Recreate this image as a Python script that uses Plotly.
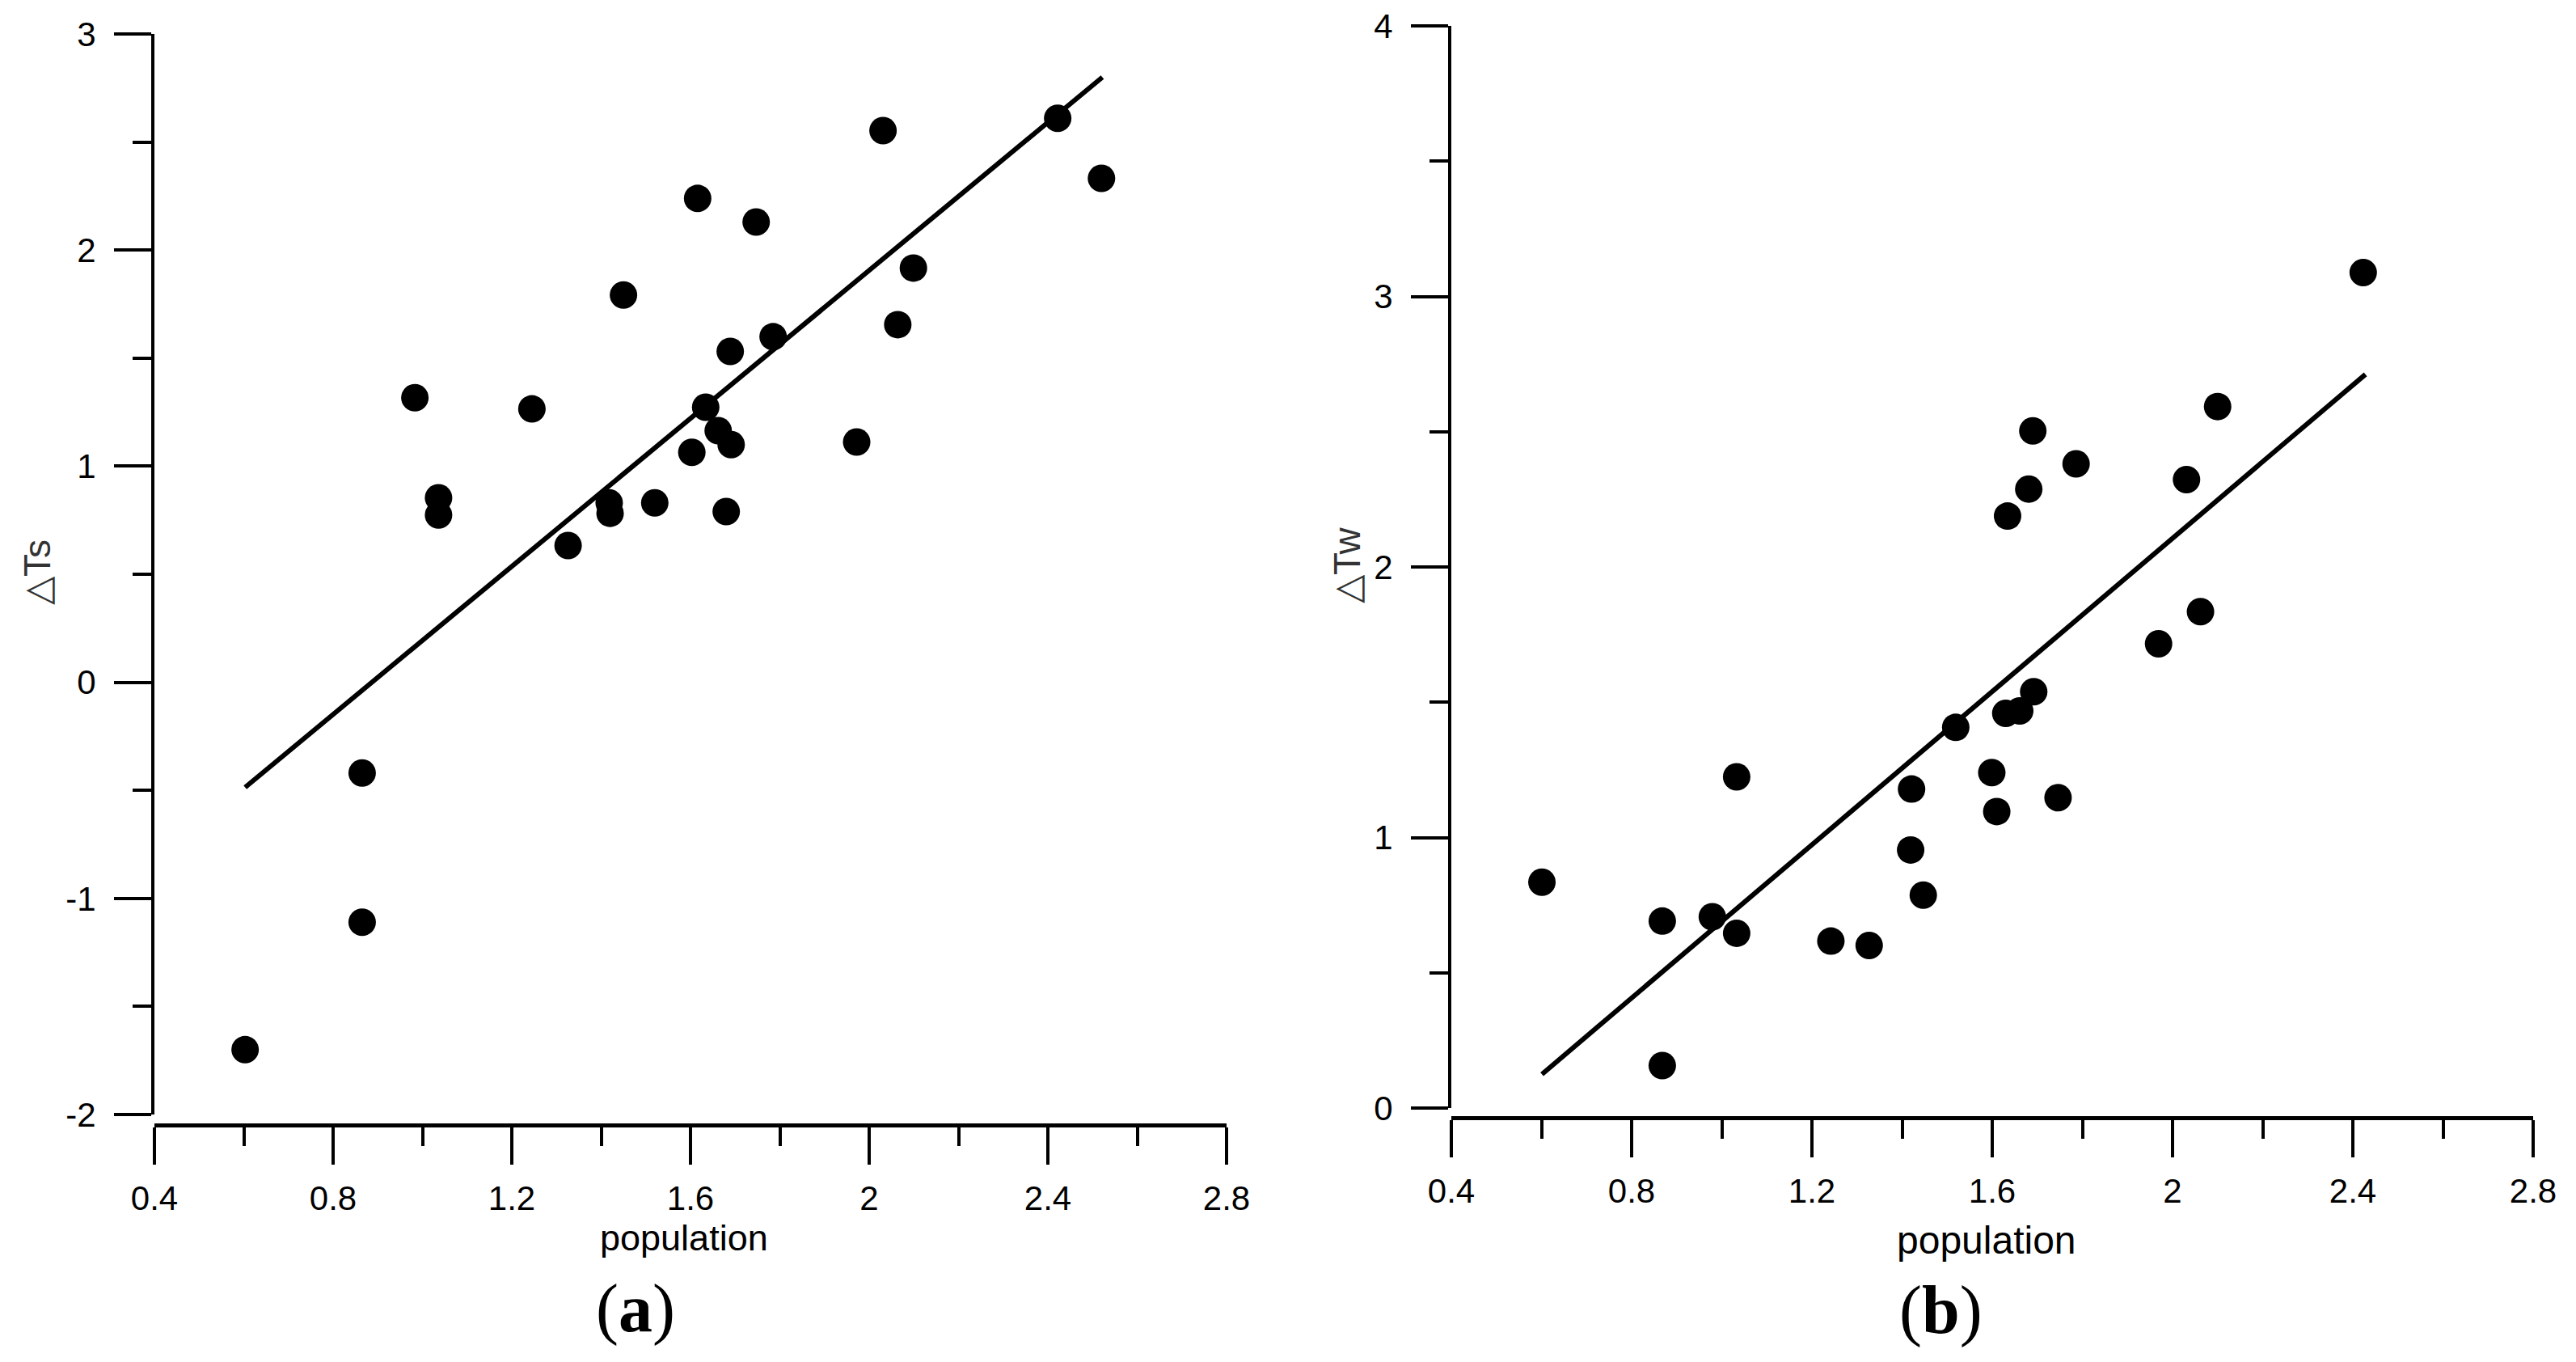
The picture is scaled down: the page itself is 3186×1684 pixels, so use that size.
import plotly.graph_objects as go

# panel (a): summer warming vs population
pop_a = [0.603, 0.865, 0.865, 0.983, 1.036, 1.036, 1.245, 1.326, 1.418, 1.420,
         1.450, 1.520, 1.603, 1.616, 1.634, 1.662, 1.680, 1.689, 1.691, 1.747,
         1.785, 1.972, 2.031, 2.064, 2.099, 2.422, 2.520]
dts = [-1.70, -0.42, -1.11, 1.317, 0.854, 0.774, 1.265, 0.633, 0.830, 0.782,
       1.792, 0.830, 1.064, 2.239, 1.273, 1.164, 0.790, 1.531, 1.100, 2.130,
       1.599, 1.112, 2.553, 1.655, 1.917, 2.610, 2.332]
fit_a_x = [0.603, 2.522]
fit_a_y = [-0.486, 2.800]

# panel (b): winter warming vs population
pop_b = [0.601, 0.868, 0.868, 0.979, 1.033, 1.033, 1.242, 1.327, 1.421, 1.419,
         1.447, 1.519, 1.599, 1.610, 1.634, 1.630, 1.661, 1.681, 1.690, 1.692,
         1.746, 1.786, 1.969, 2.031, 2.062, 2.100, 2.423]
dtw = [0.835, 0.691, 0.157, 0.707, 1.224, 0.646, 0.617, 0.601, 1.179, 0.954,
       0.787, 1.407, 1.240, 1.096, 2.188, 1.459, 1.468, 2.288, 2.503, 1.539,
       1.147, 2.381, 1.716, 2.323, 1.835, 2.593, 3.088]
fit_b_x = [0.601, 2.428]
fit_b_y = [0.125, 2.712]

x_ticks = [0.4, 0.8, 1.2, 1.6, 2.0, 2.4, 2.8]
x_labels = ["0.4", "0.8", "1.2", "1.6", "2", "2.4", "2.8"]
ya_ticks = [-2, -1, 0, 1, 2, 3]
ya_labels = ["-2", "-1", "0", "1", "2", "3"]
yb_ticks = [0, 1, 2, 3, 4]

W, H = 3186, 1684
OFF = 8  # page body margin in the browser
tickfont = dict(family="Liberation Sans, Arial", size=42, color="black")


def px_x(p):
    return (p - OFF) / W


def px_y(p):
    return 1 - (p - OFF) / H


fig = go.Figure()

fig.add_trace(go.Scatter(x=pop_a, y=dts, mode="markers", xaxis="x", yaxis="y",
                         marker=dict(size=34, color="black"), showlegend=False))
fig.add_trace(go.Scatter(x=fit_a_x, y=fit_a_y, mode="lines", xaxis="x", yaxis="y",
                         line=dict(color="black", width=6), showlegend=False))
fig.add_trace(go.Scatter(x=pop_b, y=dtw, mode="markers", xaxis="x2", yaxis="y2",
                         marker=dict(size=34, color="black"), showlegend=False))
fig.add_trace(go.Scatter(x=fit_b_x, y=fit_b_y, mode="lines", xaxis="x2", yaxis="y2",
                         line=dict(color="black", width=6), showlegend=False))

common_x = dict(range=[0.4, 2.8], tickmode="array", tickvals=x_ticks, ticktext=x_labels,
                showgrid=False, zeroline=False, showline=True, linewidth=5, linecolor="black",
                ticks="outside", ticklen=46, tickwidth=4, tickcolor="black",
                tickfont=tickfont, ticklabelstandoff=6, automargin=False,
                minor=dict(dtick=0.2, tick0=0.4, ticks="outside", ticklen=23,
                           tickwidth=4, tickcolor="black"))
common_y = dict(tickmode="array", showgrid=False, zeroline=False, showline=True,
                linewidth=4, linecolor="black", ticks="outside", ticklen=46,
                tickwidth=4, tickcolor="black", tickfont=tickfont, ticklabelstandoff=14,
                automargin=False,
                minor=dict(dtick=0.5, ticks="outside", ticklen=23, tickwidth=4,
                           tickcolor="black"))

fig.update_layout(
    width=W, height=H,
    margin=dict(l=0, r=0, t=0, b=0, autoexpand=False),
    paper_bgcolor="white", plot_bgcolor="white",
    xaxis=dict(common_x, domain=[px_x(191), px_x(1517)], anchor="free",
               position=px_y(1391)),
    yaxis=dict(common_y, range=[-2, 3], tickvals=ya_ticks, ticktext=ya_labels,
               domain=[px_y(1378), px_y(42)], anchor="x"),
    xaxis2=dict(common_x, domain=[px_x(1795), px_x(3133)], anchor="free",
                position=px_y(1382)),
    yaxis2=dict(common_y, range=[0, 4], tickvals=yb_ticks,
                domain=[px_y(1370), px_y(32)], anchor="x2"),
)


def label(xp, yp, text, size, angle=0, color="black", family="Liberation Sans, Arial"):
    fig.add_annotation(x=px_x(xp), y=px_y(yp), xref="paper", yref="paper",
                       xanchor="center", yanchor="middle", text=text, textangle=angle,
                       showarrow=False, font=dict(family=family, size=size, color=color))


label(846, 1530, "population", 45)
label(2457, 1533, "population", 48)
label(46, 708, "△Ts", 46, angle=-90, color="#333333")
label(1666, 699, "△Tw", 46, angle=-90, color="#333333")

serif = "Liberation Serif, Times New Roman"
label(786, 1618, "(<b>a</b>)", 84, family=serif)
label(2400, 1620, "(<b>b</b>)", 84, family=serif)

fig.write_html("out.html")
